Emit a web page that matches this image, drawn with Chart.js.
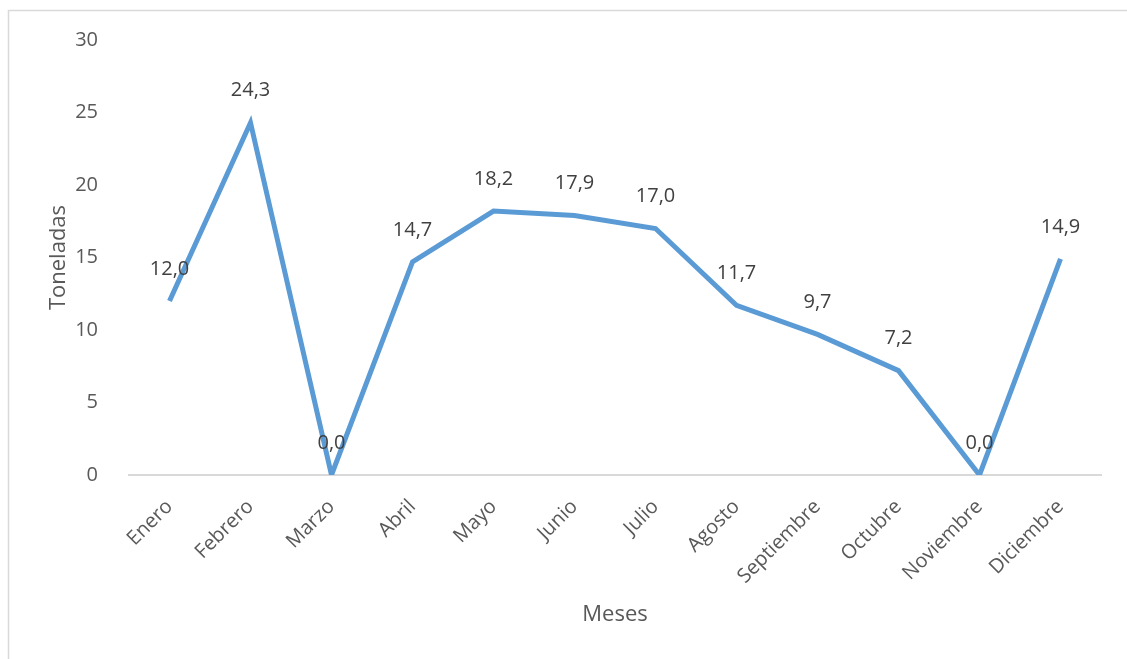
<!DOCTYPE html>
<html>
<head>
<meta charset="utf-8">
<script src="https://cdn.jsdelivr.net/npm/chart.js@4/dist/chart.umd.min.js"></script>
<style>
  html, body { margin: 0; padding: 0; background: #fff; }
  #wrap { width: 1127px; height: 659px; }
</style>
</head>
<body>
<div id="wrap"><canvas id="lineChart" width="1127" height="659"></canvas></div>
<script>
// data
const meses = ['Enero', 'Febrero', 'Marzo', 'Abril', 'Mayo', 'Junio', 'Julio',
    'Agosto', 'Septiembre', 'Octubre', 'Noviembre', 'Diciembre'];
const toneladas = [12.0, 24.3, 0.0, 14.7, 18.2, 17.9, 17.0, 11.7, 9.7, 7.2, 0.0, 14.9];
const yMin = 0;
const yMax = 30;
const yStep = 5;

const FONT = "'Open Sans', 'Noto Sans', sans-serif";

// light frame around the whole chart, like the office export
const framePlugin = {
    id: 'frame',
    beforeDraw(chart) {
        const c = chart.ctx;
        c.save();
        c.fillStyle = '#ffffff';
        c.fillRect(0, 0, chart.width, chart.height);
        c.strokeStyle = '#d9d9d9';
        c.lineWidth = 1.5;
        c.strokeRect(8.5, 10.5, chart.width + 20, chart.height + 20);
        c.restore();
    }
};

// value labels above each point, with a decimal comma
const valueLabels = {
    id: 'valueLabels',
    afterDatasetsDraw(chart) {
        const c = chart.ctx;
        const meta = chart.getDatasetMeta(0);
        c.save();
        c.font = '20px ' + FONT;
        c.fillStyle = '#404040';
        c.textAlign = 'center';
        c.textBaseline = 'middle';
        meta.data.forEach((pt, i) => {
            const txt = toneladas[i].toFixed(1).replace('.', ',');
            c.fillText(txt, pt.x, pt.y - 32);
        });
        c.restore();
    }
};

new Chart(document.getElementById('lineChart'), {
    type: 'line',
    data: {
        labels: meses,
        datasets: [{
            data: toneladas,
            borderColor: '#5B9BD5',
            borderWidth: 5,
            borderJoinStyle: 'miter',
            pointRadius: 0,
            pointHoverRadius: 0,
            tension: 0,
            fill: false
        }]
    },
    options: {
        responsive: false,
        animation: false,
        events: [],
        layout: {
            padding: { left: 10, right: 26, top: 40, bottom: 0 }
        },
        plugins: {
            legend: { display: false },
            tooltip: { enabled: false }
        },
        scales: {
            x: {
                offset: true,
                grid: { display: false },
                border: { display: true, color: '#d9d9d9', width: 2 },
                ticks: {
                    color: '#595959',
                    font: { family: FONT, size: 20 },
                    minRotation: 45,
                    maxRotation: 45,
                    padding: 12,
                    autoSkip: false
                },
                title: {
                    display: true,
                    text: 'Meses',
                    color: '#595959',
                    font: { family: FONT, size: 22 },
                    padding: { top: 0, bottom: 31 }
                },
                afterFit(scale) { scale.height = 184; }
            },
            y: {
                min: yMin,
                max: yMax,
                grid: { display: false },
                border: { display: false },
                ticks: {
                    stepSize: yStep,
                    color: '#595959',
                    font: { family: FONT, size: 20 },
                    padding: 23
                },
                title: {
                    display: true,
                    text: 'Toneladas',
                    color: '#595959',
                    font: { family: FONT, size: 22 },
                    padding: { top: 36, bottom: 0 }
                },
                afterFit(scale) { scale.width = 119; }
            }
        }
    },
    plugins: [framePlugin, valueLabels]
});
</script>
</body>
</html>
